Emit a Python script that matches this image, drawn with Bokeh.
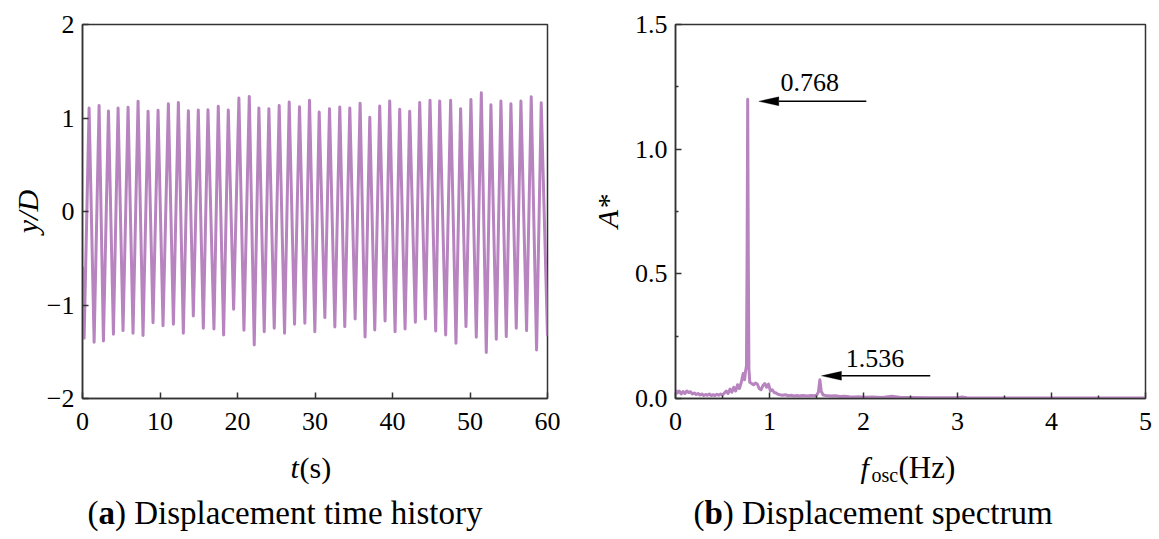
from bokeh.plotting import figure
from bokeh.layouts import row, column
from bokeh.models import Label, Range1d, FixedTicker, Arrow, PolyAnnotation, ColumnDataSource
from bokeh.core.properties import value
from bokeh.embed import file_html
from bokeh.resources import INLINE

SERIF = "Liberation Serif"
PURPLE = "#b784bf"
INK = "#333333"

# ---------------- data: (a) displacement time history (extrema)
t_ext = [0.00, 0.21, 0.85, 1.50, 2.14, 2.70, 3.35, 3.99, 4.59, 5.23, 5.88, 6.52, 7.17, 7.81,
         8.46, 9.10, 9.75, 10.39, 11.08, 11.73, 12.37, 13.01, 13.66, 14.30, 14.94, 15.59,
         16.19, 16.96, 17.52, 18.21, 18.81, 19.50, 20.18, 20.83, 21.52, 22.16, 22.76, 23.45,
         24.05, 24.74, 25.38, 26.07, 26.67, 27.36, 28.00, 28.69, 29.29, 29.98, 30.54, 31.27,
         31.87, 32.56, 33.20, 33.84, 34.49, 35.18, 35.82, 36.46, 37.07, 37.71, 38.35, 39.04,
         39.64, 40.33, 40.93, 41.62, 42.22, 42.95, 43.51, 44.24, 44.84, 45.57, 46.09, 46.86,
         47.50, 48.19, 48.79, 49.48, 50.12, 50.81, 51.46, 52.10, 52.70, 53.39, 53.99, 54.68,
         55.28, 55.97, 56.57, 57.30, 57.90, 58.59, 59.19, 60.00]
yD_ext = [-0.59, -1.356, 1.107, -1.399, 1.135, -1.384, 1.075, -1.313, 1.107, -1.274, 1.114, -1.302,
          1.178, -1.327, 1.071, -1.189, 1.082, -1.221, 1.153, -1.206, 1.167, -1.302, 1.078, -1.117,
          1.085, -1.249, 1.089, -1.256, 1.125, -1.320, 1.085, -1.046, 1.214, -1.270, 1.231, -1.427,
          1.107, -1.285, 1.100, -1.249, 1.135, -1.302, 1.171, -1.206, 1.121, -1.196, 1.189, -1.285,
          1.064, -1.135, 1.100, -1.235, 1.117, -1.231, 1.107, -1.149, 1.157, -1.342, 1.007, -1.267,
          1.128, -1.171, 1.181, -1.285, 1.093, -1.256, 1.071, -1.185, 1.167, -1.149, 1.189, -1.278,
          1.181, -1.320, 1.189, -1.409, 1.100, -1.231, 1.199, -1.345, 1.270, -1.509, 1.142, -1.367,
          1.181, -1.338, 1.153, -1.249, 1.181, -1.274, 1.228, -1.480, 1.164, -1.33]

# ---------------- data: (b) displacement spectrum
freq = [0.00, 0.02, 0.04, 0.06, 0.08, 0.10, 0.12, 0.14, 0.16, 0.18,
        0.20, 0.22, 0.24, 0.26, 0.28, 0.30, 0.32, 0.34, 0.36, 0.38,
        0.40, 0.42, 0.44, 0.46, 0.48, 0.50, 0.52, 0.54, 0.56, 0.58,
        0.60, 0.62, 0.64, 0.66, 0.68, 0.70, 0.72,
        0.735, 0.745, 0.755, 0.762, 0.768, 0.774, 0.781, 0.79,
        0.81, 0.83, 0.85, 0.87, 0.89, 0.91, 0.93, 0.95, 0.97, 0.99, 1.01, 1.03, 1.05, 1.07, 1.09, 1.11,
        1.14, 1.17, 1.20, 1.23, 1.26, 1.29, 1.32, 1.35, 1.38, 1.41, 1.44, 1.47, 1.50,
        1.52, 1.536, 1.55, 1.57, 1.60,
        1.65, 1.70, 1.75, 1.80, 1.85, 1.90, 1.95, 2.00,
        2.10, 2.20, 2.30, 2.40, 2.50, 2.70,
        3.00, 3.05, 3.10, 3.50, 4.00, 4.50, 5.00]
amp = [0.035, 0.022, 0.030, 0.018, 0.028, 0.020, 0.030, 0.024, 0.027, 0.018,
       0.022, 0.016, 0.020, 0.014, 0.018, 0.012, 0.016, 0.013, 0.018, 0.012,
       0.015, 0.012, 0.017, 0.013, 0.018, 0.014, 0.022, 0.030, 0.020, 0.038,
       0.025, 0.045, 0.030, 0.055, 0.040, 0.065, 0.100,
       0.075, 0.110, 0.130, 0.600, 1.200, 0.600, 0.120, 0.065,
       0.060, 0.055, 0.062, 0.058, 0.040, 0.035, 0.052, 0.060, 0.045, 0.058, 0.030, 0.035, 0.024, 0.022, 0.017, 0.015,
       0.013, 0.015, 0.011, 0.013, 0.010, 0.012, 0.010, 0.012, 0.011, 0.010, 0.012, 0.011, 0.013,
       0.025, 0.075, 0.030, 0.014, 0.012,
       0.010, 0.011, 0.008, 0.009, 0.007, 0.006, 0.007, 0.005,
       0.006, 0.004, 0.009, 0.004, 0.004, 0.003,
       0.003, 0.006, 0.003, 0.002, 0.002, 0.002, 0.002]

# ticks
x_ticks_a = [0, 10, 20, 30, 40, 50, 60]
y_ticks_a = [-2, -1, 0, 1, 2]
y_labels_a = ["\u22122", "\u22121", "0", "1", "2"]
x_ticks_b = [0, 1, 2, 3, 4, 5]
x_minor_b = [0.5, 1.5, 2.5, 3.5, 4.5]
y_ticks_b = [0, 0.5, 1.0, 1.5]
y_labels_b = ["0.0", "0.5", "1.0", "1.5"]
y_minor_b = [0.25, 0.75, 1.25]

# peak annotations
ann_text = ["0.768", "1.536"]
ann_y = [1.192, 0.091]
ann_tip = [0.886, 1.553]
ann_tail = [2.03, 2.71]
ann_text_x = [1.117, 1.81]
ann_text_y = [1.269, 0.161]

# texts below the plots (axis titles and sub-captions), page-pixel placement
below_text = ["t", "(s)", "f", "osc", "(Hz)",
              "(", "a", ") Displacement time history",
              "(", "b", ") Displacement spectrum"]
below_x = [290, 299, 860, 871, 898, 87, 98, 114.5, 693, 704, 722.3]
below_y = [467, 467, 467, 474, 467, 512, 512, 512, 512, 512, 512]
below_style = ["italic", "normal", "italic", "normal", "normal",
               "normal", "bold", "normal", "normal", "bold", "normal"]
below_size = ["30px", "30px", "30px", "20px", "31px",
              "33px", "33px", "33px", "33px", "33px", "33px"]


def style(p):
    p.xgrid.grid_line_color = None
    p.ygrid.grid_line_color = None
    p.outline_line_color = INK
    p.outline_line_width = 1.5
    p.outline_line_alpha = 1.0
    p.background_fill_color = "white"
    p.border_fill_color = "white"
    for ax in p.axis:
        ax.axis_line_color = INK
        ax.axis_line_width = 1.5
        ax.major_tick_in = 6
        ax.major_tick_out = 0
        ax.minor_tick_in = 3
        ax.minor_tick_out = 0
        ax.major_tick_line_color = INK
        ax.major_tick_line_width = 1.5
        ax.minor_tick_line_color = INK
        ax.minor_tick_line_width = 1.5
        ax.major_label_text_font = SERIF
        ax.major_label_text_font_size = "26px"
        ax.major_label_text_color = "black"
        ax.axis_label_text_font = SERIF
        ax.axis_label_text_font_size = "30px"
        ax.axis_label_text_font_style = "italic"
        ax.axis_label_text_color = "black"
    p.xaxis.major_label_standoff = 14
    p.yaxis.major_label_standoff = 8


TOP_H = 440

# ---------------- (a)
p1 = figure(width=580, height=TOP_H, x_range=Range1d(0, 60), y_range=Range1d(-2, 2),
            output_backend="svg", toolbar_location=None, title_location=None,
            min_border_left=82, min_border_right=33, min_border_top=24,
            min_border_bottom=TOP_H - 24 - 374)
p1.line(t_ext, yD_ext, line_color=PURPLE, line_width=3, line_join="round")
style(p1)
p1.xaxis.ticker = FixedTicker(ticks=x_ticks_a, minor_ticks=[])
p1.yaxis.ticker = FixedTicker(ticks=y_ticks_a, minor_ticks=[])
p1.yaxis.major_label_overrides = {v: s for v, s in zip(y_ticks_a, y_labels_a)}
p1.xaxis.major_label_overrides = {v: str(v) for v in x_ticks_a}
p1.yaxis.axis_label = "y/D"
p1.yaxis.axis_label_standoff = 0

# ---------------- (b)
p2 = figure(width=575, height=TOP_H, x_range=Range1d(0, 5), y_range=Range1d(0, 1.5),
            output_backend="svg", toolbar_location=None, title_location=None,
            min_border_left=95, min_border_right=10, min_border_top=21,
            min_border_bottom=TOP_H - 21 - 377)
p2.line(freq, amp, line_color=PURPLE, line_width=3, line_join="round")
style(p2)
p2.xaxis.ticker = FixedTicker(ticks=x_ticks_b, minor_ticks=x_minor_b)
p2.yaxis.ticker = FixedTicker(ticks=y_ticks_b, minor_ticks=y_minor_b)
p2.yaxis.major_label_overrides = {v: s for v, s in zip(y_ticks_b, y_labels_b)}
p2.xaxis.major_label_overrides = {v: str(v) for v in x_ticks_b}
p2.yaxis.axis_label = "A*"
p2.yaxis.axis_label_standoff = 8

# arrows with elongated heads (head 20 px long, 9 px wide)
px_per_f = 470 / 5.0
px_per_a = 377 / 1.5
for txt, ay, tip, tail, tx, ty in zip(ann_text, ann_y, ann_tip, ann_tail, ann_text_x, ann_text_y):
    base = tip + 20 / px_per_f
    half = 4.5 / px_per_a
    p2.add_layout(Arrow(x_start=tail, y_start=ay, x_end=base, y_end=ay, end=None,
                        line_color="black", line_width=1.5))
    p2.add_layout(PolyAnnotation(xs=[tip, base, base], ys=[ay, ay + half, ay - half],
                                 fill_color="black", fill_alpha=1.0,
                                 line_color="black", line_width=1))
    p2.add_layout(Label(x=tx, y=ty, text=txt, text_font=SERIF, text_font_size="26px",
                        text_color="black", text_baseline="alphabetic"))

# ---------------- text strip below (axis titles + captions)
W = 1155
H_TXT = 535 - TOP_H
pt = figure(width=W, height=H_TXT, x_range=Range1d(0, W), y_range=Range1d(535, TOP_H),
            output_backend="svg", toolbar_location=None, title_location=None,
            x_axis_type=None, y_axis_type=None,
            min_border=0, min_border_left=0, min_border_right=0,
            min_border_top=0, min_border_bottom=0)
pt.outline_line_color = None
pt.xgrid.grid_line_color = None
pt.ygrid.grid_line_color = None
pt.background_fill_color = "white"
pt.border_fill_color = "white"
src = ColumnDataSource(dict(x=below_x, y=below_y, text=below_text,
                            style=below_style, size=below_size))
pt.text(x="x", y="y", text="text", source=src, text_font=value(SERIF),
        text_font_style="style", text_font_size="size", text_color="black",
        text_align="left", text_baseline="alphabetic")

layout = column(row(p1, p2, spacing=0), pt, spacing=0)
open("out.html", "w").write(file_html(layout, INLINE))
